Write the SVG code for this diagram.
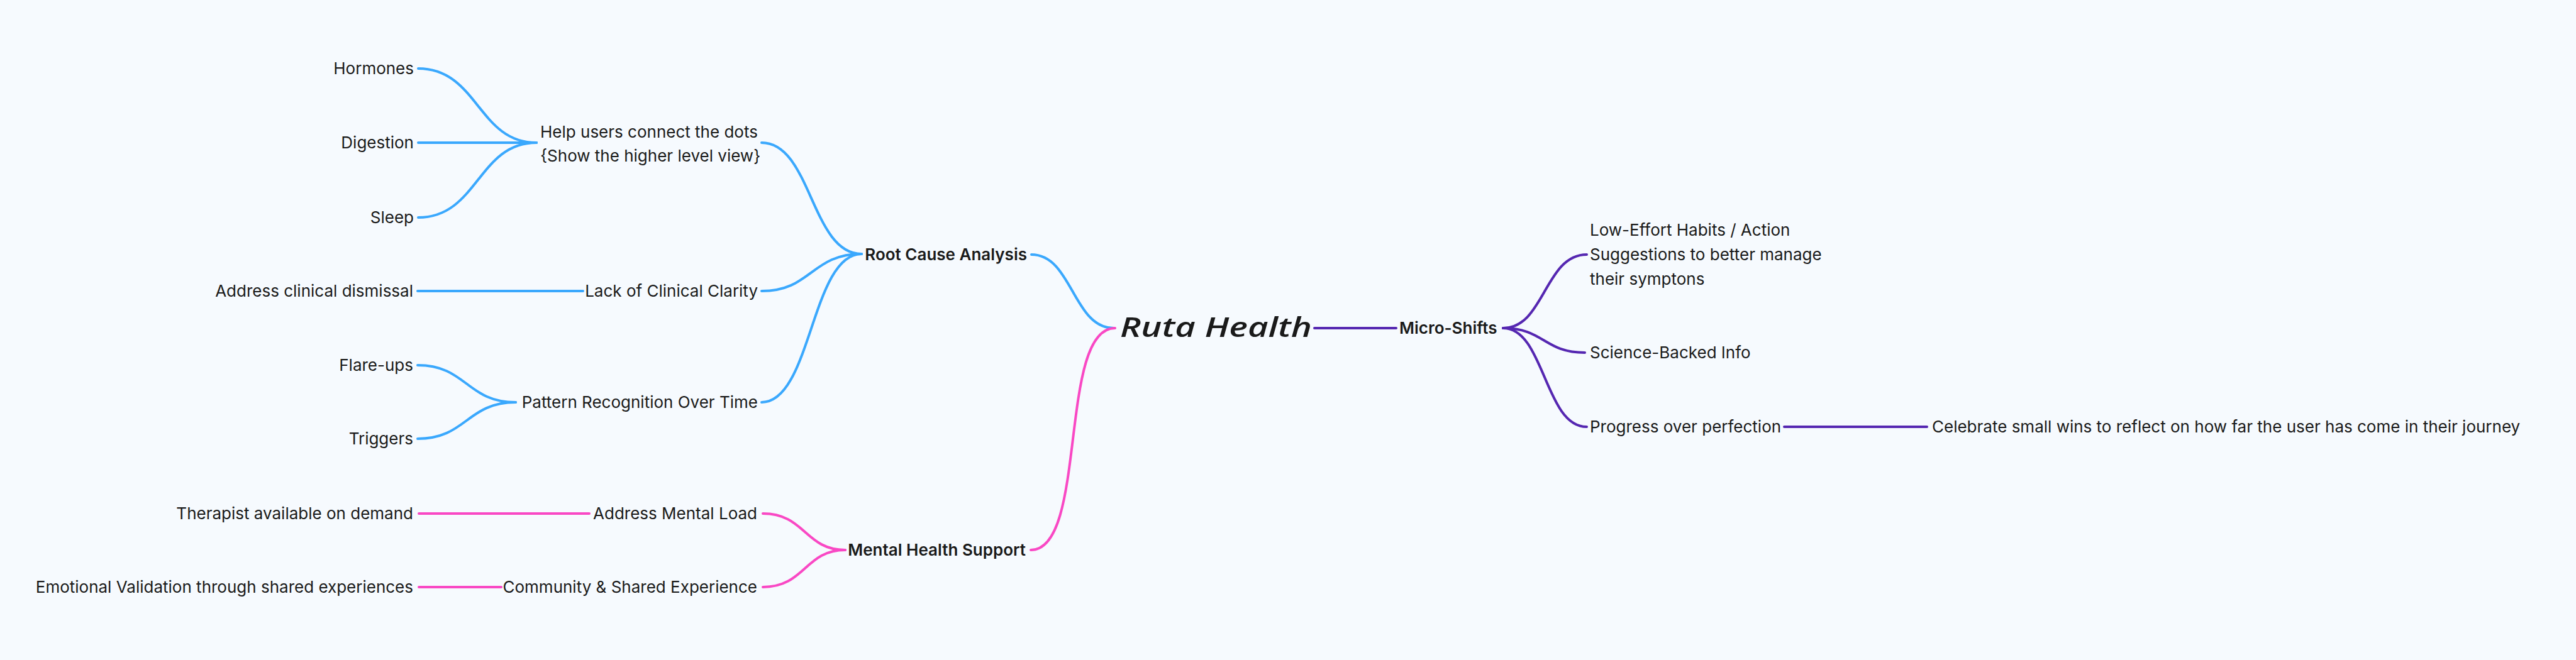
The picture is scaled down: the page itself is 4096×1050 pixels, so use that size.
<svg xmlns="http://www.w3.org/2000/svg" width="4096" height="1050" viewBox="0 0 4096 1050">
<style>
.t{font-family:Inter,"Noto Sans","Liberation Sans",sans-serif;font-size:26px;fill:#1a1a1a}
.b{font-weight:600}
.e{text-anchor:end}
.c{fill:none;stroke-width:4;stroke-linecap:round}
.blue{stroke:#3aa8fd}
.pink{stroke:#f948c4}
.purple{stroke:#5527b1}
.root{font-family:"Open Sans","Noto Sans",sans-serif;font-style:italic;font-weight:600;font-size:44px;fill:#1a1a1a}
</style>
<rect width="4096" height="1050" fill="#f6fafe"/>
<g id="connectors">
<path class="c purple" d="M2090,522 H2220"/>
<path class="c blue" d="M1640,405 C1705,405 1706,522 1771,522"/>
<path class="c pink" d="M1639,875 C1730,875 1682,522 1773,522"/>
<path class="c blue" d="M1211,227 C1290,227 1290,404 1370,404"/>
<path class="c blue" d="M1211,463 C1290,463 1290,404 1370,404"/>
<path class="c blue" d="M1211,640 C1290,640 1290,404 1370,404"/>
<path class="c blue" d="M665,109 C760,109 760,227 853,227"/>
<path class="c blue" d="M665,227 H853"/>
<path class="c blue" d="M665,346 C760,346 760,227 853,227"/>
<path class="c blue" d="M664,463 H927"/>
<path class="c blue" d="M664,581 C742,581 742,640 820,640"/>
<path class="c blue" d="M664,698 C742,698 742,640 820,640"/>
<path class="c pink" d="M1213,817 C1280,817 1280,875 1344,875"/>
<path class="c pink" d="M1213,934 C1280,934 1280,875 1344,875"/>
<path class="c pink" d="M666,817 H937"/>
<path class="c pink" d="M666,934 H797"/>
<path class="c purple" d="M2390,522 C2456,522 2456,405 2523,405"/>
<path class="c purple" d="M2390,522 C2455,522 2455,561 2520,561"/>
<path class="c purple" d="M2390,522 C2456,522 2456,679 2523,679"/>
<path class="c purple" d="M2837,679 H3064"/>
</g>
<g id="ruta-health"><text class="root" x="1781" y="536" textLength="305" lengthAdjust="spacingAndGlyphs">Ruta Health</text></g>
<g id="micro-shifts"><text class="t b" x="2225" y="531">Micro-Shifts</text></g>
<g id="root-cause-analysis"><text class="t b e" x="1633" y="414">Root Cause Analysis</text></g>
<g id="mental-health-support"><text class="t b e" x="1631" y="884">Mental Health Support</text></g>
<g id="help-users"><text class="t" x="859" y="219">Help users connect the dots</text><text class="t" x="859" y="257">{Show the higher level view}</text></g>
<g id="hormones"><text class="t e" x="658" y="118">Hormones</text></g>
<g id="digestion"><text class="t e" x="658" y="236">Digestion</text></g>
<g id="sleep"><text class="t e" x="658" y="355">Sleep</text></g>
<g id="lack-of-clinical-clarity"><text class="t e" x="1205" y="472">Lack of Clinical Clarity</text></g>
<g id="address-clinical-dismissal"><text class="t e" x="657" y="472">Address clinical dismissal</text></g>
<g id="pattern-recognition"><text class="t e" x="1205" y="649">Pattern Recognition Over Time</text></g>
<g id="flare-ups"><text class="t e" x="657" y="590">Flare-ups</text></g>
<g id="triggers"><text class="t e" x="657" y="707">Triggers</text></g>
<g id="address-mental-load"><text class="t e" x="1204" y="826">Address Mental Load</text></g>
<g id="therapist"><text class="t e" x="657" y="826">Therapist available on demand</text></g>
<g id="community"><text class="t e" x="1204" y="943">Community &amp; Shared Experience</text></g>
<g id="emotional-validation"><text class="t e" x="657" y="943">Emotional Validation through shared experiences</text></g>
<g id="low-effort-habits"><text class="t" x="2528" y="375">Low-Effort Habits / Action</text><text class="t" x="2528" y="414">Suggestions to better manage</text><text class="t" x="2528" y="453">their symptons</text></g>
<g id="science-backed-info"><text class="t" x="2528" y="570">Science-Backed Info</text></g>
<g id="progress-over-perfection"><text class="t" x="2528" y="688">Progress over perfection</text></g>
<g id="celebrate-small-wins"><text class="t" x="3072" y="688">Celebrate small wins to reflect on how far the user has come in their journey</text></g>
</svg>
